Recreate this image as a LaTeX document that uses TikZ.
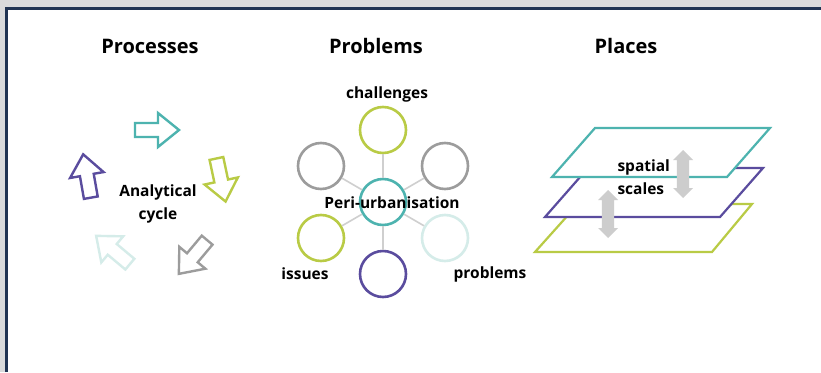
\documentclass[tikz,border=0pt]{standalone}
\usepackage{fontspec}
\setmainfont{Open Sans}
\usetikzlibrary{shapes.arrows}
\definecolor{frame}{HTML}{1F3352}
\definecolor{bggray}{HTML}{D9DADB}
\definecolor{cteal}{HTML}{4DB3AF}
\definecolor{cyel}{HTML}{B9CB45}
\definecolor{cgray}{HTML}{9C9C9C}
\definecolor{clight}{HTML}{D5ECE9}
\definecolor{cpurp}{HTML}{5A4C9E}
\definecolor{cspoke}{HTML}{CFCFCF}
\definecolor{carr}{HTML}{CDCDCD}
\begin{document}
\begin{tikzpicture}[x=1pt,y=-1pt,
  title/.style={font=\fontsize{20}{22}\selectfont\bfseries},
  lab/.style={font=\fontsize{15.5}{23}\selectfont\bfseries, align=center},
  ring/.style={circle, draw=#1, line width=2.6pt, minimum size=46pt, inner sep=0pt},
  spoke/.style={draw=cspoke, line width=1.6pt},
  plane/.style={draw=#1, line width=2.2pt, fill=white, line join=miter},
  darrow/.style={double arrow, fill=carr, draw=none, rotate=90, minimum height=48pt, minimum width=20pt, double arrow head extend=2pt, inner sep=3pt},
  blockarrow/.pic={\draw[pic actions, line width=2.4pt, line join=miter] (-22,-7) -- (1,-7) -- (1,-17) -- (22,0) -- (1,17) -- (1,7) -- (-22,7) -- cycle;}
]
\useasboundingbox (0,0) rectangle (821,372);
\fill[bggray] (0,0) rectangle (821,372);
\fill[white] (6.5,8.5) rectangle (821,372);
\draw[frame, line width=3.4pt] (6.3,372) -- (6.3,8.5) -- (821,8.5);

% titles
\node[title] (t1) at (150,46) {Processes};
\node[title] (t2) at (376,46) {Problems};
\node[title] (t3) at (626,46) {Places};

% Processes: analytical cycle
\pic[draw=cteal, rotate=0] at (157,130) {blockarrow};
\pic[draw=cyel, rotate=-78] at (221,180) {blockarrow};
\pic[draw=cgray, rotate=-130] at (193,257) {blockarrow};
\pic[draw=clight, rotate=140] at (113,250) {blockarrow};
\pic[draw=cpurp, rotate=100] at (87,176) {blockarrow};
\node[lab] (ac) at (158,204) {Analytical\\cycle};

% Problems: hub
\node[ring=cteal] (c) at (383,202) {};
\node[ring=cyel] (n1) at (383,130) {};
\node[ring=cgray] (n2) at (445,166) {};
\node[ring=clight] (n3) at (445,238) {};
\node[ring=cpurp] (n4) at (383,274) {};
\node[ring=cyel] (n5) at (321,238) {};
\node[ring=cgray] (n6) at (321,166) {};
\foreach \n in {n1,n2,n3,n4,n5,n6} \draw[spoke] (c) -- (\n);
\node[lab] (pu) at (392,203) {Peri-urbanisation};
\node[lab] (ch) at (387,94) {challenges};
\node[lab] (is) at (305,274) {issues};
\node[lab] (pr) at (490,274) {problems};

% Places: spatial scales
\draw[plane=cyel] (578,204) -- (752,204) -- (712,252) -- (535,252) -- cycle;
\draw[plane=cpurp] (588,168) -- (763,168) -- (720,217) -- (545,217) -- cycle;
\draw[plane=cteal] (595,128) -- (770,128) -- (727,177) -- (552,177) -- cycle;
\node[darrow] (a1) at (683,174) {};
\node[darrow] (a2) at (608,214) {};
\node[lab, align=left, anchor=west] (ss) at (614,177) {spatial\\scales};
\end{tikzpicture}
\end{document}
